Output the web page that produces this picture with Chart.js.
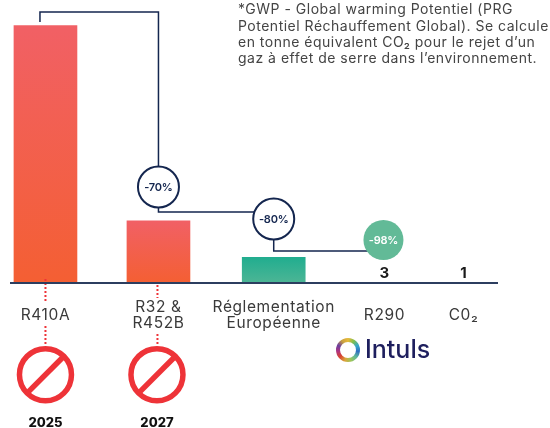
<!DOCTYPE html>
<html lang="fr">
<head>
    <meta charset="UTF-8">
    <title>GWP</title>
    <script src="https://cdn.jsdelivr.net/npm/chart.js"></script>
    <style>
        html, body { margin: 0; padding: 0; background: #fff; }
        #box { width: 550px; height: 428px; }
    </style>
</head>
<body>
<div id="box"><canvas id="gwpChart"></canvas></div>

<script>
    // data
    const categories = [['R410A'], ['R32 &', 'R452B'], ['Réglementation', 'Européenne'], ['R290'], ['C0₂']];
    const gwpValues = [2088, 500, 205, 3, 1];
    const shownValues = ['', '', '', '3', '1'];
    const reductions = ['-70%', '-80%', '-98%'];
    const banYears = ['2025', '2027'];
    const noteLines = [
        '*GWP - Global warming Potentiel (PRG',
        'Potentiel Réchauffement Global). Se calcule',
        'en tonne équivalent CO₂ pour le rejet d’un',
        'gaz à effet de serre dans l’environnement.'
    ];

    // layout: the categories are not evenly spaced on the axis
    const slots = [0, 1, 2.02, 3, 3.7];
    const FONT = 'Inter, "Open Sans", sans-serif';
    const NAVY = '#14264f';
    const RED = '#ee3338';
    const AXIS = '#2c3e5f';
    const NONE = 'rgba(0,0,0,0)';
    const barColors = [
        ['#f16065', '#f45f33'],
        ['#f16065', '#f45f33'],
        ['#21ad8f', '#4cb595'],
        [NONE, NONE],
        [NONE, NONE]
    ];

    function barGradient(context) {
        const chart = context.chart;
        const i = context.dataIndex;
        if (!chart.chartArea) return barColors[i][0];
        const yScale = chart.scales.y;
        const g = chart.ctx.createLinearGradient(0, yScale.getPixelForValue(gwpValues[i]), 0, yScale.getPixelForValue(0));
        g.addColorStop(0, barColors[i][0]);
        g.addColorStop(1, barColors[i][1]);
        return g;
    }

    function text(ctx, str, x, y, font, color, align, spacing) {
        ctx.font = font;
        ctx.fillStyle = color;
        ctx.textAlign = align || 'left';
        ctx.textBaseline = 'middle';
        ctx.letterSpacing = spacing || '0px';
        ctx.fillText(str, x, y);
        ctx.letterSpacing = '0px';
    }

    function badge(ctx, str, x, y, r, filled) {
        ctx.beginPath();
        ctx.arc(x, y, r, 0, Math.PI * 2);
        ctx.fillStyle = filled ? '#62ba97' : '#fff';
        ctx.fill();
        if (!filled) {
            ctx.lineWidth = 2;
            ctx.strokeStyle = NAVY;
            ctx.stroke();
        }
        text(ctx, str, x, y + 0.5, '600 11px ' + FONT, filled ? '#fff' : NAVY, 'center', '-0.2px');
    }

    function banSign(ctx, x, y) {
        const r = 26;
        ctx.strokeStyle = RED;
        ctx.lineWidth = 5.5;
        ctx.beginPath();
        ctx.arc(x, y, r, 0, Math.PI * 2);
        ctx.stroke();
        const d = r * Math.SQRT1_2;
        ctx.beginPath();
        ctx.moveTo(x - d, y + d);
        ctx.lineTo(x + d, y - d);
        ctx.stroke();
    }

    function dotted(ctx, x, y1, y2) {
        ctx.save();
        ctx.strokeStyle = RED;
        ctx.lineWidth = 2;
        ctx.setLineDash([2, 2]);
        ctx.beginPath();
        ctx.moveTo(x, y1);
        ctx.lineTo(x, y2);
        ctx.stroke();
        ctx.restore();
    }

    function logo(ctx, x, y) {
        const ring = ctx.createConicGradient(-Math.PI / 2, x, y);
        ['#e8b93a', '#7fbf4d', '#35a7c9', '#2f6fc0', '#5fb89a', '#9cc65a', '#d9a53a', '#d9452f', '#b0357f', '#6a3fa0', '#c9a040', '#e8b93a']
            .forEach((c, i, all) => ring.addColorStop(i / (all.length - 1), c));
        ctx.strokeStyle = ring;
        ctx.lineWidth = 4;
        ctx.beginPath();
        ctx.arc(x, y, 10, 0, Math.PI * 2);
        ctx.stroke();
        text(ctx, 'Intuls', x + 17, y, '500 25px ' + FONT, '#1e1f5e', 'left');
    }

    const decorations = {
        id: 'decorations',
        beforeDraw(chart) {
            // tick labels are wider in the reference font
            chart.ctx.letterSpacing = '0.6px';
        },
        afterDatasetsDraw(chart) {
            const ctx = chart.ctx;
            const xs = chart.scales.x;
            const ys = chart.scales.y;
            const x0 = xs.getPixelForValue(slots[0]);
            const x1 = xs.getPixelForValue(slots[1]);
            const x2 = xs.getPixelForValue(slots[2]);
            const x3 = xs.getPixelForValue(slots[3]);

            ctx.save();
            // connectors between the bars
            ctx.strokeStyle = NAVY;
            ctx.lineWidth = 1.5;
            ctx.beginPath();
            ctx.moveTo(x0 - 5.5, 22);
            ctx.lineTo(x0 - 5.5, 12);
            ctx.lineTo(x1, 12);
            ctx.lineTo(x1, 212);
            ctx.lineTo(x2, 212);
            ctx.lineTo(x2, 251);
            ctx.lineTo(x3 - 10, 251);
            ctx.stroke();

            badge(ctx, reductions[0], x1, 187, 20.5, false);
            badge(ctx, reductions[1], x2, 219, 20.5, false);
            badge(ctx, reductions[2], x3 - 1, 240, 20, true);

            // values over the two small bars
            shownValues.forEach((v, i) => {
                if (!v) return;
                const px = xs.getPixelForValue(slots[i]);
                text(ctx, v, px, ys.getPixelForValue(gwpValues[i]) - 8.5, '700 15px ' + FONT, '#1a1a1a', 'center');
            });

            dotted(ctx, x0, 279, 302);
            dotted(ctx, x0, 326, 345);
            dotted(ctx, x1 - 1, 285, 298);
            dotted(ctx, x1 - 1, 334, 345);

            banSign(ctx, x0, 374.7);
            banSign(ctx, x1 - 1.5, 374.7);
            text(ctx, banYears[0], x0, 423, '800 13px ' + FONT, '#111', 'center');
            text(ctx, banYears[1], x1 - 1.5, 423, '800 13px ' + FONT, '#111', 'center');

            noteLines.forEach((line, i) => {
                text(ctx, line, 238, 10 + i * 16.4, '400 14px ' + FONT, '#444', 'left', '0.5px');
            });

            logo(ctx, 348, 350);
            ctx.restore();
        }
    };

    new Chart(document.getElementById('gwpChart'), {
        type: 'bar',
        data: {
            datasets: [{
                data: slots.map((s, i) => ({ x: s, y: gwpValues[i] })),
                backgroundColor: barGradient,
                barThickness: 63
            }]
        },
        options: {
            responsive: true,
            maintainAspectRatio: false,
            animation: false,
            layout: { padding: { left: 11, right: 53, top: 0, bottom: 0 } },
            plugins: { legend: { display: false }, tooltip: { enabled: false } },
            scales: {
                x: {
                    type: 'linear',
                    offset: false,
                    min: -0.305,
                    max: 3.996,
                    afterFit(scale) {
                        scale.height = 145.5;
                        scale.paddingLeft = 0;
                        scale.paddingRight = 0;
                    },
                    afterBuildTicks(scale) { scale.ticks = slots.map(v => ({ value: v })); },
                    grid: { display: false, drawTicks: false },
                    border: { color: AXIS, width: 2, z: 1 },
                    ticks: {
                        autoSkip: false,
                        maxRotation: 0,
                        padding: 25,
                        crossAlign: 'center',
                        color: '#3a3a3a',
                        font: { family: FONT, size: 15.5, lineHeight: 1 },
                        callback(value, index) { return categories[index]; }
                    }
                },
                y: { display: false, min: 0, max: 2295 }
            }
        },
        plugins: [decorations]
    });
</script>
</body>
</html>
